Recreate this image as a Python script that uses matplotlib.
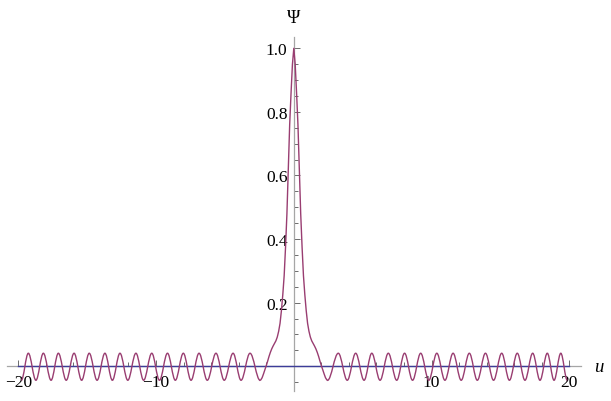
import numpy as np
import matplotlib
matplotlib.use('Agg')
import matplotlib.pyplot as plt
from matplotlib.path import Path
from matplotlib.patches import PathPatch

plt.rcParams['font.family'] = ['Liberation Serif', 'DejaVu Serif']
plt.rcParams['axes.unicode_minus'] = True

# 振荡部分: 峰/谷的位置
peaks_left = [-19.27, -18.18, -17.09, -15.95, -14.85, -13.71, -12.62, -11.46,
              -10.31, -9.17, -8.02, -6.88, -5.65, -4.41, -3.18]
troughs_left = [-19.78, -18.72, -17.62, -16.52, -15.40, -14.28, -13.17, -12.05,
                -10.90, -9.75, -8.60, -7.46, -6.28, -5.05, -3.83, -2.45]
peaks_right = [3.23, 4.49, 5.66, 6.86, 8.04, 9.21, 10.38, 11.56, 12.74, 13.91,
               15.09, 16.22, 17.34, 18.40, 19.38]
troughs_right = [2.45, 3.88, 5.10, 6.26, 7.47, 8.62, 9.80, 10.97, 12.15, 13.32,
                 14.50, 15.65, 16.78, 17.87, 18.89, 19.85]
peak_psi = 0.041
trough_psi = -0.044

# 中心峰
center_u = [-2.45, -2.40, -2.30, -2.20, -2.10, -2.00, -1.90, -1.80, -1.70, -1.60,
            -1.50, -1.40, -1.30, -1.20, -1.10, -1.00, -0.90, -0.80, -0.70, -0.60,
            -0.50, -0.40, -0.30, -0.20, -0.10, 0.00,
            0.10, 0.20, 0.30, 0.40, 0.50, 0.60, 0.70, 0.80, 0.90, 1.00,
            1.10, 1.20, 1.30, 1.40, 1.50, 1.60, 1.70, 1.80, 1.90, 2.00,
            2.10, 2.20, 2.30, 2.40, 2.45]
center_psi = [-0.044, -0.043, -0.036, -0.024, -0.011, 0.002, 0.016, 0.031, 0.044, 0.055,
              0.064, 0.072, 0.080, 0.092, 0.110, 0.135, 0.175, 0.225, 0.285, 0.375,
              0.480, 0.620, 0.760, 0.860, 0.950, 1.000,
              0.950, 0.860, 0.760, 0.620, 0.480, 0.375, 0.285, 0.225, 0.175, 0.135,
              0.110, 0.092, 0.080, 0.072, 0.064, 0.055, 0.044, 0.031, 0.016, 0.002,
              -0.011, -0.024, -0.036, -0.043, -0.044]

zero_u = [-20, 20]
zero_psi = [0, 0]

x_major = [-20, -10, 10, 20]
x_labels = ['\u221220', '\u221210', '10', '20']
y_major = [0.2, 0.4, 0.6, 0.8, 1.0]
y_labels = ['0.2', '0.4', '0.6', '0.8', '1.0']

blue = (0.24, 0.24, 0.6)
purple = (0.6, 0.24, 0.4428)
axis_gray = '#a6a6a6'
tick_gray = '#555555'


def wave_path(peaks, troughs, k=0.3642):
    # 峰谷交替, 用三次贝塞尔连接, 峰谷处切线水平
    pts = sorted([(p, peak_psi) for p in peaks] + [(t, trough_psi) for t in troughs])
    verts = [pts[0]]
    codes = [Path.MOVETO]
    for (x0, y0), (x1, y1) in zip(pts[:-1], pts[1:]):
        dx = x1 - x0
        verts += [(x0 + k * dx, y0), (x1 - k * dx, y1), (x1, y1)]
        codes += [Path.CURVE4] * 3
    return Path(verts, codes)


fig = plt.figure(figsize=(6.11, 4.02), dpi=100)
ax = fig.add_axes([0.00737, 0.0231, 0.947, 0.9017])
ax.set_xlim(-21, 21)
ax.set_ylim(-0.08, 1.06)

for s in ['top', 'right']:
    ax.spines[s].set_visible(False)
ax.spines['left'].set_position('zero')
ax.spines['bottom'].set_position('zero')
ax.spines['left'].set_bounds(-0.078, 1.035)
ax.spines['bottom'].set_bounds(-20.85, 20.85)
for s in ['left', 'bottom']:
    ax.spines[s].set_color(axis_gray)
    ax.spines[s].set_linewidth(0.9)

ax.set_xticks(x_major)
ax.set_xticklabels(x_labels)
ax.set_xticks(np.arange(-20, 21, 2), minor=True)
ax.set_yticks(y_major)
ax.set_yticklabels(y_labels)
ax.set_yticks(np.arange(-0.05, 1.001, 0.05), minor=True)
ax.tick_params(which='both', direction='in', color=tick_gray, width=0.6,
               labelsize=12.5, labelcolor='black')
ax.tick_params(which='major', length=4.5)
ax.tick_params(which='minor', length=2.6)
ax.tick_params(axis='x', which='major', pad=5.5)
ax.tick_params(axis='y', which='major', pad=4.5)

ax.plot(zero_u, zero_psi, color=blue, lw=1.0, zorder=3)
for pk, tr in [(peaks_left, troughs_left), (peaks_right, troughs_right)]:
    ax.add_patch(PathPatch(wave_path(pk, tr), facecolor='none', edgecolor=purple,
                           lw=1.0, zorder=4))
ax.plot(center_u, center_psi, color=purple, lw=1.0, zorder=4)

ax.text(0, 1.097, '\u03a8', ha='center', va='center', fontsize=13, clip_on=False)
ax.text(22.1, 0.0, 'u', ha='center', va='center', fontsize=13.5, style='italic',
        clip_on=False)

fig.savefig('out.png', dpi=100)
